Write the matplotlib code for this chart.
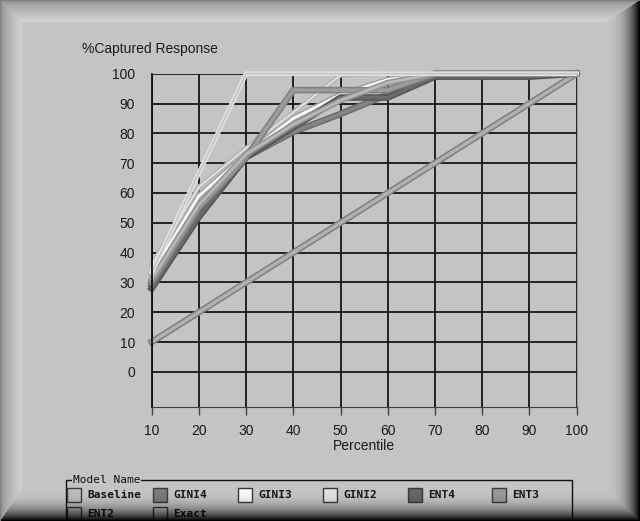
import numpy as np
import matplotlib
matplotlib.use('Agg')
from matplotlib import pyplot as plt
from matplotlib import patheffects as pe
from matplotlib.patches import Rectangle

# данные
percentile = [10, 20, 30, 40, 50, 60, 70, 80, 90, 100]
baseline = [10, 20, 30, 40, 50, 60, 70, 80, 90, 100]
gini4 = [29, 53, 72, 80.5, 86.5, 93, 100, 100, 100, 100]
gini3 = [33, 59, 73, 85, 93, 98, 100, 100, 100, 100]
gini2 = [36, 62, 75, 87, 99.5, 100, 100, 100, 100, 100]
ent4 = [28, 52, 72, 82, 92, 92, 99, 99, 99, 100]
ent3 = [30, 55, 72, 94.5, 94.5, 94.5, 100, 100, 100, 100]
ent2 = [31, 56, 73, 83, 91, 97, 100, 100, 100, 100]
exact = [33.3, 66.7, 100, 100, 100, 100, 100, 100, 100, 100]

names = ['Baseline', 'GINI4', 'GINI3', 'GINI2', 'ENT4', 'ENT3', 'ENT2', 'Exact']
series = [baseline, gini4, gini3, gini2, ent4, ent3, ent2, exact]

BG = '#c4c4c4'
# цвет линии, цвет кромки, толщина
styles = {
    'Baseline': ('#b0b0b0', '#7e7e7e', 2.5),
    'GINI4': ('#858585', '#6c6c6c', 2.5),
    'GINI3': ('#ffffff', '#a0a0a0', 2.0),
    'GINI2': ('#e4e4e4', '#b4b4b4', 1.2),
    'ENT4': ('#6a6a6a', '#555555', 2.5),
    'ENT3': ('#9c9c9c', '#808080', 2.5),
    'ENT2': ('#b8b8b8', '#929292', 2.0),
    'Exact': (BG, '#e2e2e2', 1.2),
}
legend_fill = {'Baseline': '#bcbcbc', 'GINI4': '#7a7a7a', 'GINI3': '#f8f8f8', 'GINI2': '#e0e0e0',
               'ENT4': '#666666', 'ENT3': '#9a9a9a', 'ENT2': '#b8b8b8', 'Exact': '#c4c4c4'}

W, H = 640, 521
fig = plt.figure(figsize=(W / 100, H / 100), dpi=100, facecolor=BG)

# основной график
ax = fig.add_axes([151.7 / W, 1 - 407 / H, (576.5 - 151.7) / W, (407 - 73.7) / H])
ax.set_facecolor(BG)
ax.set_xlim(10, 100)
ax.set_ylim(-11.8, 100)
ax.set_xticks(percentile)
ax.set_yticks(range(0, 101, 10))
ax.grid(True, color='#151515', lw=1.3)
ax.set_axisbelow(True)
ax.spines['top'].set_visible(False)
ax.spines['left'].set_color('#101010')
ax.spines['left'].set_linewidth(1.3)
ax.spines['right'].set_color('#9a9a9a')
ax.spines['bottom'].set_color('#404040')
ax.tick_params(axis='y', length=0, pad=12, labelsize=10, labelcolor='#1a1a1a')
ax.tick_params(axis='x', length=6, width=1, color='#404040', pad=6, labelsize=10, labelcolor='#1a1a1a')
for lab in ax.get_xticklabels() + ax.get_yticklabels():
    lab.set_family('Liberation Sans')

for name, vals in zip(names, series):
    face, edge, lw = styles[name]
    ax.plot(percentile, vals, color=face, lw=lw, clip_on=False, solid_joinstyle='round',
            path_effects=[pe.Stroke(linewidth=lw + 2.2, foreground=edge), pe.Normal()])

fig.text(82 / W, 1 - 49 / H, '%Captured Response', fontsize=10, family='Liberation Sans',
         color='#1a1a1a', va='center', ha='left')
fig.text(364 / W, 1 - 446 / H, 'Percentile', fontsize=10, family='Liberation Sans',
         color='#1a1a1a', va='center', ha='center')

# легенда (в пикселях)
lax = fig.add_axes([0, 0, 1, 1], zorder=5)
lax.set_xlim(0, W)
lax.set_ylim(H, 0)
lax.axis('off')
lax.add_patch(Rectangle((66, 480), 506, 70, fill=False, ec='#101010', lw=1))
lax.text(73, 480, 'Model Name', family='DejaVu Sans Mono', fontsize=8, va='center', ha='left',
         color='#101010', bbox=dict(facecolor=BG, edgecolor='none', pad=0.5))
col_x = [67, 153, 238, 323, 408, 492]
for i, name in enumerate(names):
    r, c = divmod(i, 6)
    x0 = col_x[c]
    yc = 495 + r * 19
    lax.add_patch(Rectangle((x0, yc - 7), 14, 14, facecolor=legend_fill[name], edgecolor='#3a3a3a', lw=1))
    lax.text(x0 + 20, yc, name, family='DejaVu Sans Mono', fontsize=8, fontweight='bold',
             va='center', ha='left', color='#141414')

# рамка со скосом
yy, xx = np.mgrid[0:H, 0:W].astype(float)
wt, wl, wb, wr = 22.0, 22.0, 32.0, 34.0
d = np.stack([yy / wt, xx / wl, (H - 1 - yy) / wb, (W - 1 - xx) / wr])
edge = np.argmin(d, axis=0)
t = np.clip(np.min(d, axis=0), 0, 1)
rgba = np.zeros((H, W, 4))
light = edge <= 1
v = 0.5 + 0.32 * np.sqrt(t)
rgba[..., 0] = np.where(light, v, 0)
rgba[..., 1] = np.where(light, v, 0)
rgba[..., 2] = np.where(light, v, 0)
rgba[..., 3] = np.where(t < 1, np.where(light, 1.0, (1 - t) ** 2.6), 0)
bax = fig.add_axes([0, 0, 1, 1], zorder=10)
bax.imshow(rgba, extent=(0, W, H, 0), interpolation='nearest', aspect='auto')
bax.set_xlim(0, W)
bax.set_ylim(H, 0)
bax.axis('off')

fig.savefig('out.png', dpi=100, facecolor=BG)
